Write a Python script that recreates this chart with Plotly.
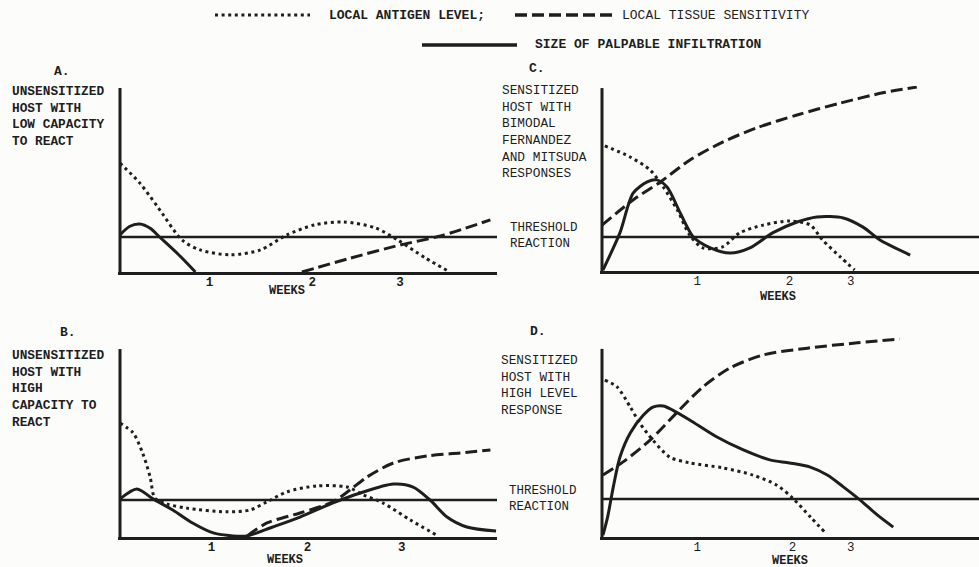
import plotly.graph_objects as go

W, H = 979, 567
INK = "#1e1e1e"
FONT = "Liberation Mono, Courier New, monospace"

# ---------------- data (weeks vs. relative level; threshold = 1) ----------------
WEEK_TICK_TEXT = ["1", "2", "3"]
TICKS_A = [0.95, 2.04, 2.97]
TICKS_B = [0.97, 1.99, 2.99]
TICKS_C = [1.01, 1.99, 2.64]
TICKS_D = [1.01, 2.02, 2.64]
THRESHOLD = 1.0

ANTIGEN_A_X = [0, 0.21, 0.40, 0.66, 0.85, 1.17, 1.49, 1.77, 2.07, 2.37, 2.71, 2.95, 3.24, 3.50]
ANTIGEN_A_Y = [3.11, 2.54, 1.86, 0.91, 0.63, 0.49, 0.63, 1.06, 1.35, 1.43, 1.26, 0.91, 0.40, 0.0]
INFIL_A_X = [0, 0.10, 0.21, 0.32, 0.42, 0.62, 0.80]
INFIL_A_Y = [1.06, 1.30, 1.37, 1.25, 1.0, 0.5, 0.0]
SENS_A_X = [1.93, 2.45, 2.97, 3.40, 3.93]
SENS_A_Y = [0.0, 0.40, 0.77, 1.03, 1.49]

ANTIGEN_B_X = [0, 0.14, 0.24, 0.32, 0.37, 0.50, 0.71, 1.13, 1.38, 1.56, 1.77, 2.09, 2.41, 2.58, 2.79, 3.08, 3.36]
ANTIGEN_B_Y = [3.08, 2.81, 2.27, 1.62, 1.05, 0.89, 0.78, 0.68, 0.73, 0.95, 1.22, 1.38, 1.35, 1.14, 0.92, 0.46, 0.05]
INFIL_B_X = [0, 0.18, 0.35, 0.56, 0.77, 0.99, 1.20, 1.35, 1.62, 1.91, 2.26, 2.55, 2.90, 3.11, 3.29, 3.47, 3.68, 3.99]
INFIL_B_Y = [1.03, 1.30, 1.03, 0.73, 0.38, 0.11, 0.03, 0.03, 0.27, 0.54, 0.92, 1.19, 1.43, 1.35, 1.0, 0.54, 0.27, 0.16]
SENS_B_X = [1.35, 1.56, 1.91, 2.26, 2.44, 2.62, 2.90, 3.26, 3.61, 3.93]
SENS_B_Y = [0.03, 0.38, 0.65, 0.95, 1.27, 1.62, 2.0, 2.19, 2.27, 2.35]

ANTIGEN_C_X = [0.03, 0.30, 0.51, 0.65, 0.80, 0.93, 1.07, 1.28, 1.46, 1.71, 1.99, 2.21, 2.34, 2.53, 2.68]
ANTIGEN_C_Y = [3.68, 3.35, 2.97, 2.47, 1.79, 1.06, 0.68, 0.71, 1.12, 1.35, 1.47, 1.35, 0.91, 0.41, 0.03]
INFIL_C_X = [0.01, 0.19, 0.33, 0.48, 0.58, 0.69, 0.83, 0.97, 1.15, 1.36, 1.57, 1.81, 2.07, 2.28, 2.56, 2.77, 2.95, 3.27]
INFIL_C_Y = [0.03, 1.12, 2.29, 2.62, 2.68, 2.47, 1.71, 1.0, 0.68, 0.53, 0.68, 1.12, 1.44, 1.59, 1.56, 1.29, 0.91, 0.47]
SENS_C_X = [0, 0.33, 0.62, 0.93, 1.28, 1.64, 2.07, 2.53, 2.98, 3.34]
SENS_C_Y = [1.35, 2.09, 2.62, 3.26, 3.79, 4.21, 4.59, 4.94, 5.24, 5.41]

ANTIGEN_D_X = [0.03, 0.16, 0.30, 0.40, 0.54, 0.72, 0.93, 1.28, 1.60, 1.85, 2.02, 2.21, 2.37]
ANTIGEN_D_Y = [4.13, 3.95, 3.42, 3.0, 2.55, 2.1, 1.95, 1.82, 1.63, 1.37, 1.03, 0.53, 0.11]
INFIL_D_X = [0.01, 0.06, 0.12, 0.19, 0.30, 0.44, 0.54, 0.65, 0.75, 0.93, 1.22, 1.50, 1.78, 1.99, 2.21, 2.39, 2.56, 2.74, 2.92, 3.09]
INFIL_D_Y = [0.05, 0.53, 1.32, 2.10, 2.74, 3.21, 3.42, 3.45, 3.34, 3.08, 2.63, 2.29, 2.03, 1.95, 1.84, 1.63, 1.32, 0.97, 0.58, 0.26]
SENS_D_X = [0.01, 0.22, 0.51, 0.80, 1.07, 1.36, 1.71, 2.18, 2.71, 3.16]
SENS_D_Y = [1.63, 1.97, 2.55, 3.29, 3.95, 4.45, 4.79, 4.97, 5.11, 5.21]

LEGEND_NAMES = ["LOCAL ANTIGEN LEVEL;", "LOCAL TISSUE SENSITIVITY", "SIZE OF PALPABLE INFILTRATION"]
LABEL_A = ["UNSENSITIZED", "HOST WITH", "LOW CAPACITY", "TO REACT"]
LABEL_B = ["UNSENSITIZED", "HOST WITH", "HIGH", "CAPACITY TO", "REACT"]
LABEL_C = ["SENSITIZED", "HOST WITH", "BIMODAL", "FERNANDEZ", "AND MITSUDA", "RESPONSES"]
LABEL_D = ["SENSITIZED", "HOST WITH", "HIGH LEVEL", "RESPONSE"]
THRESH_LABEL = ["THRESHOLD", "REACTION"]

# ---------------- layout geometry ----------------
PPW = 94.25      # px per week
XMIN = -0.02
XMAX = 4.0

panels = [
    dict(letter="A.", label=LABEL_A, bold=True, ticks=TICKS_A, ox=120, base=272, ppu=35, ytop=5.26, axtop=5.26,
         ant=(ANTIGEN_A_X, ANTIGEN_A_Y), inf=(INFIL_A_X, INFIL_A_Y), sen=(SENS_A_X, SENS_A_Y),
         letter_xy=(62, 71), label_xy=(10, 116), weeks_xy=(287, 291), thresh_xy=None),
    dict(letter="B.", label=LABEL_B, bold=True, ticks=TICKS_B, ox=120, base=537, ppu=37, ytop=5.08, axtop=5.08,
         ant=(ANTIGEN_B_X, ANTIGEN_B_Y), inf=(INFIL_B_X, INFIL_B_Y), sen=(SENS_B_X, SENS_B_Y),
         letter_xy=(68, 332), label_xy=(10, 389), weeks_xy=(285, 560), thresh_xy=None),
    dict(letter="C.", label=LABEL_C, bold=False, ticks=TICKS_C, ox=602, base=271, ppu=34, ytop=5.44, axtop=5.38,
         ant=(ANTIGEN_C_X, ANTIGEN_C_Y), inf=(INFIL_C_X, INFIL_C_Y), sen=(SENS_C_X, SENS_C_Y),
         letter_xy=(537, 69), label_xy=(500, 132), weeks_xy=(778, 297), thresh_xy=(508, 236)),
    dict(letter="D.", label=LABEL_D, bold=False, ticks=TICKS_D, ox=602, base=537, ppu=38, ytop=5.26, axtop=4.95,
         ant=(ANTIGEN_D_X, ANTIGEN_D_Y), inf=(INFIL_D_X, INFIL_D_Y), sen=(SENS_D_X, SENS_D_Y),
         letter_xy=(538, 331), label_xy=(499, 385), weeks_xy=(790, 561), thresh_xy=(507, 499)),
]

DOT = "3px,3.6px"
DASH = "12px,5px"

fig = go.Figure()
layout = dict(
    width=W, height=H, margin=dict(l=0, r=0, t=0, b=0),
    paper_bgcolor="#fcfcfb", plot_bgcolor="rgba(0,0,0,0)",
    showlegend=False, shapes=[], annotations=[],
)


def px(x):
    return x / W


def py(y):
    return 1 - y / H


def wrap(txt, bold):
    return "<b>" + txt + "</b>" if bold else txt


for i, p in enumerate(panels):
    n = "" if i == 0 else str(i + 1)
    xa, ya = "x" + n, "y" + n
    x0 = p["ox"] + XMIN * PPW
    x1 = min(p["ox"] + XMAX * PPW, W)
    y_top_px = p["base"] - p["ytop"] * p["ppu"]
    layout["xaxis" + n] = dict(
        domain=[px(x0), min(px(x1), 1.0)], range=[XMIN, XMAX], anchor=ya,
        showgrid=False, zeroline=False, showline=True, linecolor=INK, linewidth=3,
        tickmode="array", tickvals=p["ticks"], ticktext=WEEK_TICK_TEXT, ticks="", ticklen=0,
        ticklabelstandoff=-4,
        tickfont=dict(family=FONT, size=12.5, color=INK, weight="bold" if p["bold"] else "normal"),
        fixedrange=True,
    )
    layout["yaxis" + n] = dict(
        domain=[py(p["base"]), py(y_top_px)], range=[0, p["ytop"]], anchor=xa,
        showgrid=False, zeroline=False, showline=False, showticklabels=False, fixedrange=True,
    )
    # curves
    fig.add_trace(go.Scatter(x=p["ant"][0], y=p["ant"][1], mode="lines", name=LEGEND_NAMES[0],
                             line=dict(color=INK, width=3, dash=DOT, shape="spline", smoothing=0.8),
                             xaxis=xa, yaxis=ya))
    fig.add_trace(go.Scatter(x=p["sen"][0], y=p["sen"][1], mode="lines", name=LEGEND_NAMES[1],
                             line=dict(color=INK, width=3, dash=DASH, shape="spline", smoothing=0.8),
                             xaxis=xa, yaxis=ya))
    fig.add_trace(go.Scatter(x=p["inf"][0], y=p["inf"][1], mode="lines", name=LEGEND_NAMES[2],
                             line=dict(color=INK, width=3, shape="spline", smoothing=0.8),
                             xaxis=xa, yaxis=ya))
    # threshold line and vertical axis
    layout["shapes"].append(dict(type="line", xref=xa, yref=ya, x0=0, x1=XMAX, y0=THRESHOLD, y1=THRESHOLD,
                                 line=dict(color=INK, width=2.5)))
    layout["shapes"].append(dict(type="line", xref=xa, yref=ya, x0=0, x1=0, y0=0, y1=p["axtop"],
                                 line=dict(color=INK, width=3)))
    # texts
    lx, ly = p["letter_xy"]
    layout["annotations"].append(dict(text=wrap(p["letter"], True), x=px(lx), y=py(ly), xref="paper", yref="paper",
                                      xanchor="center", yanchor="middle", showarrow=False,
                                      font=dict(family=FONT, size=13, color=INK)))
    tx, ty = p["label_xy"]
    layout["annotations"].append(dict(text="<br>".join(wrap(t, p["bold"]) for t in p["label"]),
                                      x=px(tx), y=py(ty), xref="paper", yref="paper", align="left",
                                      xanchor="left", yanchor="middle", showarrow=False,
                                      font=dict(family=FONT, size=12.8, color=INK)))
    wx, wy = p["weeks_xy"]
    layout["annotations"].append(dict(text=wrap("WEEKS", True), x=px(wx), y=py(wy), xref="paper", yref="paper",
                                      xanchor="center", yanchor="middle", showarrow=False,
                                      font=dict(family=FONT, size=12, color=INK)))
    if p["thresh_xy"]:
        hx, hy = p["thresh_xy"]
        layout["annotations"].append(dict(text="<br>".join(THRESH_LABEL), x=px(hx), y=py(hy),
                                          xref="paper", yref="paper", align="left",
                                          xanchor="left", yanchor="middle", showarrow=False,
                                          font=dict(family=FONT, size=12.5, color=INK)))

# ---------------- custom legend ----------------
layout["shapes"] += [
    dict(type="line", xref="paper", yref="paper", x0=px(215), x1=px(310), y0=py(15), y1=py(15),
         line=dict(color=INK, width=3, dash=DOT)),
    dict(type="line", xref="paper", yref="paper", x0=px(515), x1=px(612), y0=py(15), y1=py(15),
         line=dict(color=INK, width=3.5, dash=DASH)),
    dict(type="line", xref="paper", yref="paper", x0=px(422), x1=px(517), y0=py(45), y1=py(45),
         line=dict(color=INK, width=3.5)),
]
for name, (lx, ly), bold in zip(LEGEND_NAMES, [(327, 15), (620, 15), (533, 45)], [True, False, True]):
    layout["annotations"].append(dict(text=wrap(name, bold), x=px(lx), y=py(ly), xref="paper", yref="paper",
                                      xanchor="left", yanchor="middle", showarrow=False,
                                      font=dict(family=FONT, size=13, color=INK)))

fig.update_layout(**layout)
fig.write_html("out.html", config={"displayModeBar": False},
               post_script="document.body.style.margin='0';document.body.style.padding='0';")
